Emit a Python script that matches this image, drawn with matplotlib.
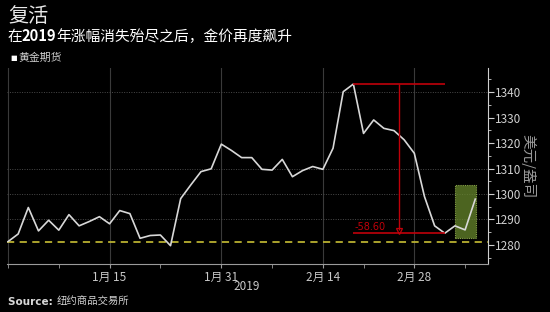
import matplotlib
matplotlib.use('Agg')
import matplotlib.pyplot as plt
import numpy as np
from matplotlib.ticker import FixedLocator, MultipleLocator

plt.rcParams['font.family'] = ['Noto Sans CJK SC', 'DejaVu Sans']

# trading days, Dec 31 2018 .. Mar 8 2019 (COMEX gold settle, USD/oz)
trading_days = ['12-31', '01-02', '01-03', '01-04', '01-07', '01-08', '01-09', '01-10',
                '01-11', '01-14', '01-15', '01-16', '01-17', '01-18', '01-22', '01-23',
                '01-24', '01-25', '01-28', '01-29', '01-30', '01-31', '02-01', '02-04',
                '02-05', '02-06', '02-07', '02-08', '02-11', '02-12', '02-13', '02-14',
                '02-15', '02-19', '02-20', '02-21', '02-22', '02-25', '02-26', '02-27',
                '02-28', '03-01', '03-04', '03-05', '03-06', '03-07', '03-08']
gold = [1281.3, 1284.3, 1294.7, 1285.5, 1289.7, 1285.8, 1291.9, 1287.5,
        1289.2, 1291.1, 1288.3, 1293.5, 1292.3, 1282.6, 1283.7, 1283.9,
        1279.7, 1298.2, 1303.6, 1308.8, 1309.9, 1319.6, 1317.1, 1314.3,
        1314.3, 1309.7, 1309.4, 1313.6, 1306.8, 1309.2, 1310.8, 1309.7,
        1318.0, 1340.2, 1343.2, 1323.8, 1329.1, 1325.8, 1324.9, 1321.3,
        1316.0, 1299.0, 1287.5, 1284.6, 1287.5, 1285.9, 1298.0]
year_end_2018 = 1281.3

major_days = ['01-15', '01-31', '02-14', '02-28']
major_labels = ['1月 15', '1月 31', '2月 14', '2月 28']
minor_days = ['12-31', '01-08', '01-23', '02-07', '02-21', '03-07']
grid_levels = [1290, 1300, 1310, 1340]

box_start, box_end = '03-06', '03-08'
box_low, box_high = 1282.9, 1303.5

x = np.arange(len(gold))
pos = {d: i for i, d in enumerate(trading_days)}

fig = plt.figure(figsize=(5.5, 3.12), dpi=100)
fig.patch.set_facecolor('black')
ax = fig.add_axes([0.0127, 0.1538, 0.8745, 0.6282])
ax.set_facecolor('black')

# grid
for d in major_days + ['12-31']:
    ax.axvline(pos[d], color='#3a3a3a', lw=0.8, zorder=0)
for lv in grid_levels:
    ax.axhline(lv, color='#4a4a4a', lw=0.7, ls=(0, (1, 1.5)), zorder=0)

ax.axhline(year_end_2018, color='#b8b030', lw=1.3, ls=(0, (4, 3)), zorder=1)
ax.plot(x, gold, color='#d8d8d8', lw=1.2, zorder=3)

# highlight box
b0 = pos[box_start]
b1 = pos[box_end] + 0.1
ax.add_patch(plt.Rectangle((b0, box_low), b1 - b0, box_high - box_low,
                           facecolor='#66862c', alpha=0.75, edgecolor='#a8c85a',
                           lw=0.8, ls=(0, (1, 1)), zorder=2))

# peak-to-trough annotation
ipk = int(np.argmax(gold))
itr = ipk + int(np.argmin(gold[ipk:]))
red = '#c0000a'
ax.hlines([gold[ipk], gold[itr]], ipk, itr, color=red, lw=1.2, zorder=4)
xm = (ipk + itr) / 2
ax.vlines(xm, gold[itr] + 1.4, gold[ipk], color=red, lw=1.0, zorder=4)
ax.plot(xm, gold[itr] + 1.0, marker='v', ms=4, mfc='none', mec=red, mew=0.9, zorder=4)
ax.text(ipk + 0.15, gold[itr] + 0.5, '%.2f' % (gold[itr] - gold[ipk]),
        color=red, fontsize=7, va='bottom', ha='left', family='DejaVu Sans')

ax.set_xlim(-0.1, 47.25)
ax.set_ylim(1272.5, 1349.5)

for s in ['top', 'left']:
    ax.spines[s].set_visible(False)
ax.spines['bottom'].set_color('#9a9a9a')
ax.spines['right'].set_color('#cfcfcf')

ax.xaxis.set_major_locator(FixedLocator([pos[d] for d in major_days]))
ax.xaxis.set_minor_locator(FixedLocator([pos[d] for d in minor_days]))
ax.set_xticklabels(major_labels)
ax.tick_params(axis='x', which='both', colors='#9a9a9a', labelcolor='#c8c8c8',
               labelsize=8.5, length=3, pad=2)

ax.yaxis.tick_right()
ax.yaxis.set_major_locator(MultipleLocator(10))
ax.yaxis.set_minor_locator(MultipleLocator(5))
ax.tick_params(axis='y', which='major', colors='#cfcfcf', labelcolor='#d0d0d0',
               labelsize=8.5, length=4, pad=1)
ax.tick_params(axis='y', which='minor', colors='#cfcfcf', length=2)
ax.set_ylabel('美元/盎司', color='#9a9a9a', fontsize=10.5, rotation=270, labelpad=10)
ax.yaxis.set_label_position('right')

fig.text(247 / 550, 1 - 287 / 312, '2019', color='#c8c8c8', fontsize=8.5,
         ha='center', va='center')

# header
fig.text(8 / 550, 1 - 6 / 312, '复活', color='#e8e8e8', fontsize=14.5,
         va='top', ha='left')
t1 = fig.text(7 / 550, 1 - 44 / 312, '在', color='white', fontsize=10.6,
              va='bottom', ha='left')
t2 = ax.annotate('2019', xy=(1, 0), xycoords=t1, color='white', fontsize=10.6,
                 fontweight='bold', va='bottom', ha='left')
ax.annotate('年涨幅消失殆尽之后，金价再度飙升', xy=(1, 0), xycoords=t2,
            color='white', fontsize=10.6, va='bottom', ha='left')
fig.text(10 / 550, 1 - 58 / 312, '■', color='white', fontsize=5,
         va='center', ha='left', family='DejaVu Sans')
fig.text(18 / 550, 1 - 58 / 312, '黄金期货', color='#d0d0d0', fontsize=7.8,
         va='center', ha='left')

# source
s1 = fig.text(8 / 550, 1 - 302 / 312, 'Source: ', color='#d8d8d8', fontsize=7.5,
              fontweight='bold', va='center', ha='left', family='DejaVu Sans')
ax.annotate('纽约商品交易所', xy=(1, 0.5), xycoords=s1, color='#d0d0d0',
            fontsize=7.5, va='center', ha='left')

fig.savefig('out.png', dpi=100, facecolor='black')
